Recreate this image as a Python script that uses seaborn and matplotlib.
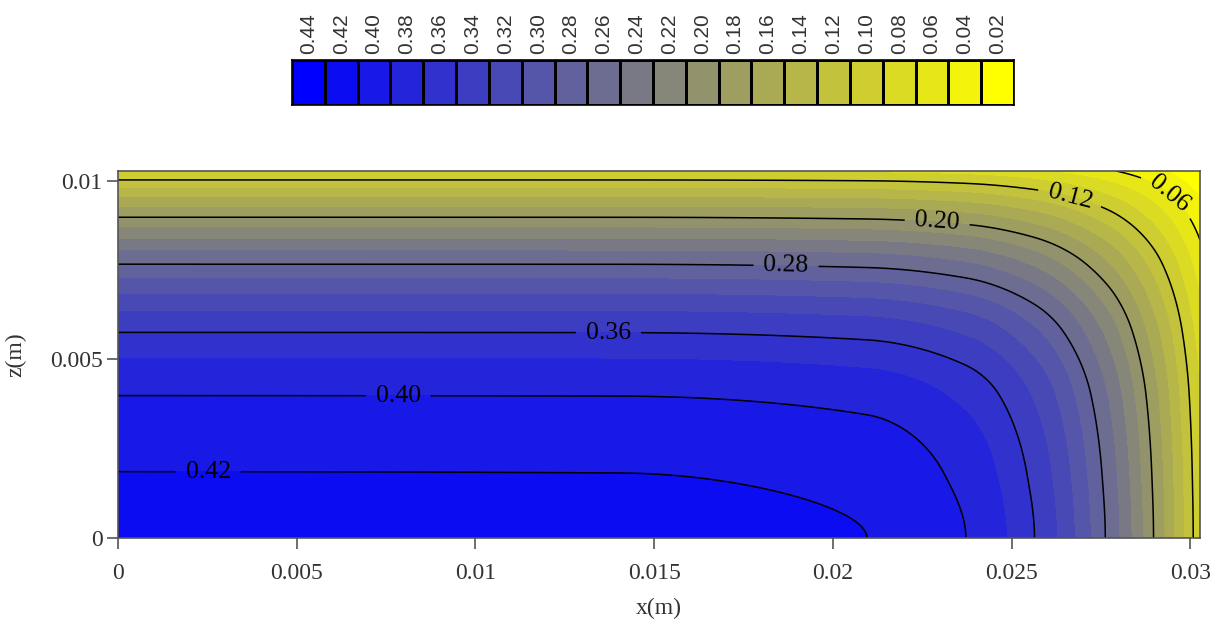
import numpy as np
import matplotlib
matplotlib.use("Agg")
import matplotlib.pyplot as plt
from matplotlib.colors import ListedColormap
import seaborn as sns

# values read along the bottom edge (z = 0): x in mm
x_edge_mm = [0.0, 14.0, 20.95, 23.72, 25.64, 27.62, 28.97, 30.08, 30.27]
u_bottom = [0.427, 0.4268, 0.42, 0.40, 0.36, 0.28, 0.20, 0.12, 0.106]

# values read along the left edge (x = 0): z in mm
z_edge_mm = [0.0, 1.85, 3.98, 5.75, 7.66, 8.975, 10.02, 10.27]
u_left = [0.427, 0.42, 0.40, 0.36, 0.28, 0.20, 0.12, 0.097]

u_origin = 0.427
band_levels = [0.44, 0.42, 0.40, 0.38, 0.36, 0.34, 0.32, 0.30, 0.28, 0.26, 0.24,
               0.22, 0.20, 0.18, 0.16, 0.14, 0.12, 0.10, 0.08, 0.06, 0.04, 0.02]
line_levels = [0.06, 0.12, 0.20, 0.28, 0.36, 0.40, 0.42]
label_pos_mm = [(2.52, 1.88), (7.84, 3.98), (13.72, 5.76), (18.69, 7.64),
                (22.92, 8.87), (26.64, 9.57), (29.3, 9.5)]


def pchip(xk, yk, x):
    # monotone cubic through the read points, flat at the centre (first point)
    xk = np.asarray(xk, float)
    yk = np.asarray(yk, float)
    h = np.diff(xk)
    d = np.diff(yk) / h
    m = np.zeros_like(yk)
    for k in range(1, len(xk) - 1):
        if d[k - 1] * d[k] > 0:
            w1 = 2 * h[k] + h[k - 1]
            w2 = h[k] + 2 * h[k - 1]
            m[k] = (w1 + w2) / (w1 / d[k - 1] + w2 / d[k])
    m[-1] = d[-1]
    i = np.clip(np.searchsorted(xk, x) - 1, 0, len(xk) - 2)
    t = (x - xk[i]) / h[i]
    return ((2 * t**3 - 3 * t**2 + 1) * yk[i] + (t**3 - 2 * t**2 + t) * h[i] * m[i]
            + (-2 * t**3 + 3 * t**2) * yk[i + 1] + (t**3 - t**2) * h[i] * m[i + 1])


sns.set_theme(style="white")
plt.rcParams["font.family"] = ["Liberation Serif", "DejaVu Serif"]

# field as product of the two edge profiles
xg = np.linspace(0, x_edge_mm[-1], 800)
zg = np.linspace(0, z_edge_mm[-1], 350)
Xp = pchip(x_edge_mm, u_bottom, xg)
Zp = pchip(z_edge_mm, u_left, zg)
U = np.outer(Zp, Xp) / u_origin
XX, ZZ = np.meshgrid(xg / 1000, zg / 1000)

asc = sorted(band_levels)


def band_color(L):
    t = (0.44 - L) / 0.42
    return (t, t, 1 - t)


colors = [band_color(L) for L in asc]
bounds = [0.0] + asc[1:] + [0.46]

fig = plt.figure(figsize=(12.25, 6.26), dpi=100)
ax = fig.add_axes([118 / 1225, 1 - 537.7 / 626, 1082 / 1225, 366.7 / 626])
ax.contourf(XX, ZZ, U, levels=bounds, colors=colors)
cs = ax.contour(XX, ZZ, U, levels=line_levels, colors="black", linewidths=1.1)
ax.clabel(cs, fmt="%.2f", fontsize=18.5, inline=True, inline_spacing=10,
          manual=[(px / 1000, pz / 1000) for px, pz in label_pos_mm])

ax.set_xlim(0, x_edge_mm[-1] / 1000)
ax.set_ylim(0, z_edge_mm[-1] / 1000)
ax.set_xticks([0, 0.005, 0.01, 0.015, 0.02, 0.025, 0.03],
              ["0", "0.005", "0.01", "0.015", "0.02", "0.025", "0.03"])
ax.set_yticks([0, 0.005, 0.01], ["0", "0.005", "0.01"])
ax.tick_params(direction="out", length=8, width=1.2, color="#555555",
               labelsize=17, labelcolor="#333333", bottom=True, left=True)
ax.tick_params(axis="x", pad=10)
ax.tick_params(axis="y", pad=3)
for s in ax.spines.values():
    s.set_color("#555555")
    s.set_linewidth(1.2)
ax.set_xlabel("x(m)", fontsize=17, color="#333333", labelpad=10)
ax.set_ylabel("z(m)", fontsize=17, color="#333333", labelpad=17)

# discrete colour bar on top
cax = fig.add_axes([292 / 1225, 1 - 105 / 626, 722 / 1225, 45 / 626])
bar = np.array([band_levels])
sns.heatmap(bar, ax=cax, cmap=ListedColormap(colors), vmin=0.01, vmax=0.45,
            cbar=False, linewidths=1.0, linecolor="black",
            xticklabels=[f"{v:.2f}" for v in band_levels], yticklabels=False)
cax.xaxis.tick_top()
cax.tick_params(axis="x", length=0, pad=4)
for lab in cax.get_xticklabels():
    lab.set_rotation(90)
    lab.set_family(["Liberation Sans", "DejaVu Sans"])
    lab.set_fontsize(15)
    lab.set_color("#333333")
for s in cax.spines.values():
    s.set_visible(True)
    s.set_color("black")
    s.set_linewidth(1.2)

fig.savefig("out.png", dpi=100)
